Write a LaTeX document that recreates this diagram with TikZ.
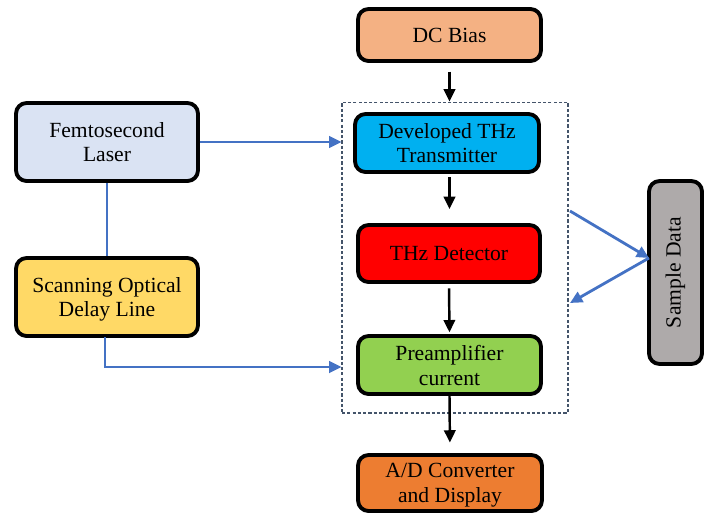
\documentclass[tikz,border=0pt]{standalone}
\usepackage{fontspec}
\setmainfont{Liberation Serif}
\usetikzlibrary{arrows.meta}
\definecolor{cFemto}{HTML}{DAE3F3}
\definecolor{cScan}{HTML}{FFD966}
\definecolor{cDC}{HTML}{F4B183}
\definecolor{cDev}{HTML}{00B0F0}
\definecolor{cDet}{HTML}{FF0000}
\definecolor{cPre}{HTML}{92D050}
\definecolor{cAD}{HTML}{ED7D31}
\definecolor{cSam}{HTML}{AEAAAA}
\definecolor{cBlue}{HTML}{4472C4}
\definecolor{cDash}{HTML}{44546A}
\begin{document}
\begin{tikzpicture}[x=0.02cm,y=-0.02cm,
  blk/.style={draw=black, line width=2.2pt, rounded corners=6pt, align=center,
    font=\fontsize{12.3}{14.2}\selectfont, inner sep=2pt, text depth=0pt},
  barrow/.style={draw=cBlue, line width=1.6pt, -{Triangle[length=7pt,width=6.5pt]}},
  bline/.style={draw=cBlue, line width=1.6pt},
  karrow/.style={draw=black, line width=1.4pt, -{Triangle[length=7pt,width=6.5pt]}},
  grpbox/.style={draw=cDash, line width=0.6pt, dash pattern=on 1.8pt off 1.2pt}
]
\useasboundingbox (0,0) rectangle (707,514);
\node[blk, fill=cFemto, minimum width=3.64cm, minimum height=1.56cm] (femto) at (107,142) {Femtosecond\\Laser};
\node[blk, fill=cScan, minimum width=3.64cm, minimum height=1.56cm] (scan) at (107,297) {Scanning Optical\\Delay Line};
\node[blk, fill=cDC, minimum width=3.66cm, minimum height=1.04cm] (dc) at (449.5,35) {DC Bias};
\node[grpbox, minimum width=4.52cm, minimum height=6.22cm, inner sep=0pt] (grp) at (455,257.5) {};
\node[blk, fill=cDev, minimum width=3.68cm, minimum height=1.16cm] (dev) at (447,143) {Developed THz\\Transmitter};
\node[blk, fill=cDet, minimum width=3.64cm, minimum height=1.14cm] (det) at (449,253.5) {THz Detector};
\node[blk, fill=cPre, minimum width=3.66cm, minimum height=1.16cm] (pre) at (449.5,365) {Preamplifier\\current};
\node[blk, fill=cAD, minimum width=3.68cm, minimum height=1.12cm] (ad) at (450,483) {A/D Converter\\and Display};
\node[blk, fill=cSam, minimum width=1.06cm, minimum height=3.66cm] (sam) at (675.5,272.5) {};
\node[rotate=90, font=\fontsize{12.3}{14.2}\selectfont] (samt) at (sam.center) {Sample Data};
% blue connectors
\draw[barrow] (femto.east) -- (femto.east -| grp.west);
\draw[bline] (femto.south) -- (scan.north);
\coordinate (sbot) at (105,337);
\draw[barrow] (sbot) |- (grp.west |- 0,367);
\coordinate (o1) at (570,211);
\coordinate (o2) at (570,303);
\coordinate (sw) at (649,258);
\draw[barrow] (o1) -- (sw);
\draw[barrow] (sw) -- (o2);
% black arrows
\draw[karrow, shorten <=5pt] (dc.south) -- (dc.south |- grp.north);
\draw[karrow, shorten <=2pt, shorten >=8pt] ([xshift=2.5*0.02cm]dev.south) -- ([xshift=2.5*0.02cm]dev.south |- det.north);
\draw[karrow, shorten <=2.5pt, shorten >=1pt] (det.south) -- (pre.north);
\draw[karrow, shorten >=6pt] (pre.south) -- (ad.north);
\end{tikzpicture}
\end{document}
